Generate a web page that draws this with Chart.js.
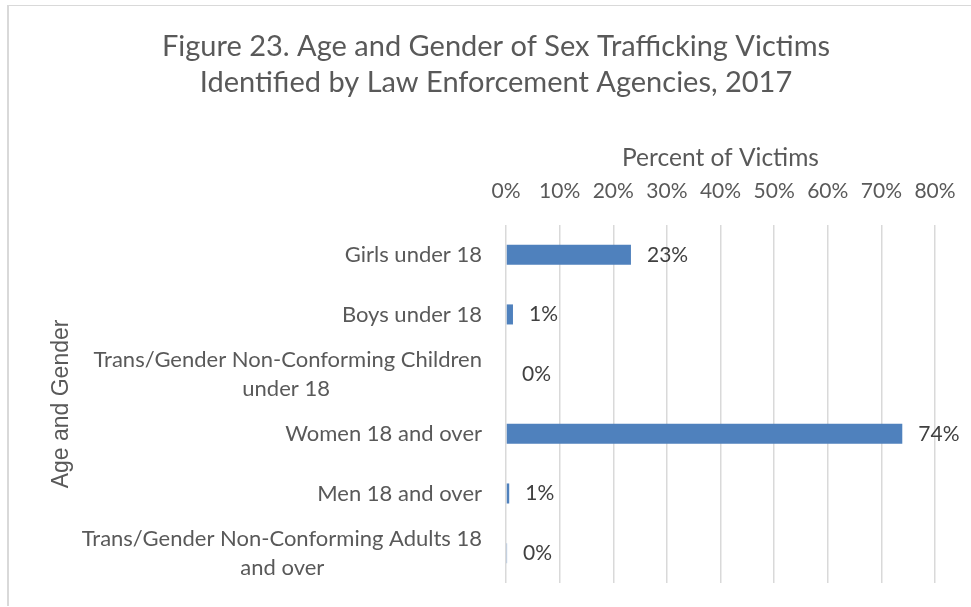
<!DOCTYPE html>
<html>
<head>
<meta charset="utf-8">
<script src="https://cdn.jsdelivr.net/npm/chart.js@4.4.1/dist/chart.umd.min.js"></script>
<style>
  html, body { margin: 0; padding: 0; background: #fff; overflow: hidden; width: 971px; height: 607px; }
  #frame { position: absolute; left: 7px; top: 5px; width: 1000px; height: 600px; border-left: 2px solid #d9d9d9; border-top: 1.5px solid #d9d9d9; pointer-events: none; }
  #c { position: absolute; left: 0; top: 0; }
</style>
</head>
<body>
<div id="frame"></div>
<canvas id="c" width="971" height="607"></canvas>
<script>
const titleLines = ['Figure 23. Age and Gender of Sex Trafficking Victims', 'Identified by Law Enforcement Agencies, 2017'];
const categories = [
  ['Girls under 18'],
  ['Boys under 18'],
  ['Trans/Gender Non-Conforming Children', 'under 18'],
  ['Women 18 and over'],
  ['Men 18 and over'],
  ['Trans/Gender Non-Conforming Adults 18', 'and over']
];
const percentValues = [23.3, 1.3, 0, 73.9, 0.6, 0.2];
const valueLabels = ['23%', '1%', '0%', '74%', '1%', '0%'];
const xTicks = [0, 10, 20, 30, 40, 50, 60, 70, 80];
const xAxisTitle = 'Percent of Victims';
const yAxisTitle = 'Age and Gender';

const FONT = 'Lato';
const TXT = '#595959';
const catFontSize = 22;

// center multi-line category labels (pad shorter lines with trailing spaces)
const mctx = document.createElement('canvas').getContext('2d');
mctx.font = catFontSize + 'px ' + FONT;
function centeredLines(lines) {
  if (lines.length < 2) return lines[0];
  const widths = lines.map(l => mctx.measureText(l).width);
  const maxW = Math.max(...widths);
  const sp = mctx.measureText(' ').width;
  return lines.map((l, i) => l + ' '.repeat(Math.round((maxW - widths[i]) / 2 / sp)));
}

const dataLabelPlugin = {
  id: 'dataLabels',
  afterDatasetsDraw(chart) {
    const ctx = chart.ctx;
    const meta = chart.getDatasetMeta(0);
    ctx.save();
    ctx.font = '21px ' + FONT;
    ctx.fillStyle = '#404040';
    ctx.textAlign = 'left';
    ctx.textBaseline = 'middle';
    meta.data.forEach((bar, i) => {
      ctx.fillText(valueLabels[i], bar.x + 16, bar.y);
    });
    ctx.restore();
  }
};

new Chart(document.getElementById('c'), {
  type: 'bar',
  data: {
    labels: categories.map((c, i) => i),
    datasets: [{
      data: percentValues,
      backgroundColor: '#4f81bd',
      borderWidth: 0,
      barPercentage: 0.336,
      categoryPercentage: 1
    }]
  },
  options: {
    indexAxis: 'y',
    responsive: false,
    animation: false,
    layout: { padding: { left: 57, right: 36, top: 0, bottom: 24 } },
    plugins: {
      legend: { display: false },
      tooltip: { enabled: false },
      title: {
        display: true,
        text: titleLines,
        color: TXT,
        font: { family: FONT, size: 29, weight: 'normal', lineHeight: 1.24 },
        padding: { top: 29, bottom: 0 }
      }
    },
    scales: {
      x: {
        position: 'top',
        min: 0,
        max: 80,
        afterBuildTicks(scale) { scale.ticks = xTicks.map(v => ({ value: v })); },
        afterFit(scale) { scale.height = 124; scale.paddingLeft = 0; scale.paddingRight = 0; },
        ticks: {
          color: TXT,
          font: { family: FONT, size: 21 },
          padding: 21,
          callback: v => v + '%'
        },
        grid: { color: '#d9d9d9', lineWidth: 1.5, drawTicks: false },
        border: { display: false },
        title: {
          display: true,
          text: xAxisTitle,
          color: TXT,
          font: { family: FONT, size: 24.5, lineHeight: 1.2 },
          padding: { top: 42, bottom: 0 }
        }
      },
      y: {
        afterFit(scale) { scale.width = 449; scale.paddingTop = 0; scale.paddingBottom = 0; },
        ticks: {
          color: TXT,
          font: { family: FONT, size: catFontSize, lineHeight: 1.32 },
          padding: 16,
          autoSkip: false,
          callback: (v, i) => centeredLines(categories[i])
        },
        grid: { display: false },
        border: { display: false },
        title: {
          display: true,
          text: yAxisTitle,
          color: TXT,
          font: { family: 'Liberation Sans', size: 23, lineHeight: 0.44 },
          padding: { top: 0, bottom: 0 }
        }
      }
    }
  },
  plugins: [dataLabelPlugin]
});
</script>
</body>
</html>
